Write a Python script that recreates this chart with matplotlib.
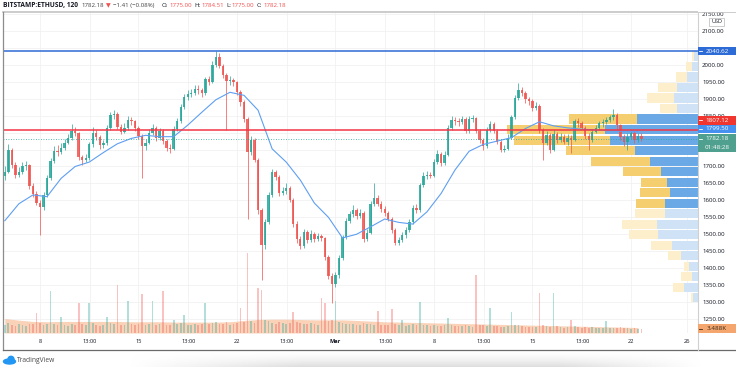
import numpy as np
import pandas as pd
import matplotlib
matplotlib.use('Agg')
import matplotlib.pyplot as plt
import matplotlib.dates as mdates
from matplotlib.patches import Rectangle, Ellipse, Circle

plt.rcParams['font.family'] = ['Open Sans', 'DejaVu Sans']

# ---- data (6h candles, BITSTAMP:ETHUSD) ----
first_open = 1672.0
close = [1685, 1750, 1705, 1676, 1685, 1702, 1705, 1643, 1620, 1593,
         1581, 1617, 1667, 1717, 1747, 1744, 1756, 1770, 1785, 1806,
         1798, 1729, 1720, 1726, 1765, 1800, 1788, 1762, 1768, 1815,
         1853, 1856, 1818, 1803, 1815, 1836, 1833, 1815, 1791, 1759,
         1770, 1800, 1815, 1785, 1806, 1776, 1756, 1753, 1812, 1833,
         1877, 1904, 1913, 1918, 1930, 1927, 1918, 1957, 1950, 2001,
         2022, 1998, 1969, 1951, 1954, 1948, 1921, 1889, 1839, 1744,
         1779, 1720, 1572, 1469, 1537, 1617, 1685, 1670, 1623, 1628,
         1637, 1602, 1531, 1486, 1466, 1507, 1483, 1501, 1486, 1495,
         1489, 1433, 1377, 1353, 1380, 1430, 1492, 1540, 1560, 1572,
         1554, 1563, 1486, 1504, 1590, 1608, 1590, 1575, 1563, 1546,
         1513, 1475, 1483, 1498, 1513, 1537, 1578, 1572, 1646, 1673,
         1676, 1673, 1714, 1738, 1711, 1735, 1815, 1836, 1833, 1830,
         1839, 1806, 1839, 1842, 1806, 1779, 1759, 1809, 1824, 1806,
         1773, 1750, 1752, 1785, 1845, 1901, 1927, 1918, 1898, 1892,
         1874, 1880, 1809, 1770, 1794, 1750, 1797, 1779, 1788, 1773,
         1785, 1779, 1833, 1828, 1815, 1791, 1779, 1803, 1815, 1827,
         1830, 1836, 1845, 1853, 1821, 1788, 1773, 1788, 1800, 1779,
         1791, 1782.18]
high = [1700, 1765, 1755, 1712, 1698, 1712, 1716, 1708, 1650, 1628,
        1600, 1625, 1675, 1725, 1760, 1762, 1770, 1782, 1795, 1825,
        1818, 1802, 1735, 1738, 1772, 1818, 1808, 1792, 1778, 1822,
        1862, 1868, 1860, 1825, 1828, 1848, 1845, 1838, 1820, 1795,
        1780, 1812, 1826, 1820, 1815, 1810, 1782, 1765, 1820, 1842,
        1885, 1915, 1925, 1928, 1942, 1940, 1932, 1965, 1968, 2012,
        2041, 2036, 2002, 1975, 1966, 1962, 1952, 1925, 1895, 1845,
        1790, 1785, 1725, 1578, 1545, 1625, 1692, 1690, 1675, 1640,
        1650, 1642, 1608, 1538, 1495, 1515, 1512, 1512, 1508, 1505,
        1502, 1493, 1438, 1385, 1390, 1438, 1498, 1548, 1570, 1585,
        1578, 1575, 1568, 1515, 1598, 1652, 1615, 1598, 1582, 1570,
        1550, 1518, 1492, 1506, 1522, 1545, 1585, 1588, 1652, 1685,
        1688, 1685, 1722, 1748, 1742, 1745, 1822, 1848, 1845, 1842,
        1850, 1845, 1848, 1852, 1846, 1812, 1785, 1818, 1835, 1830,
        1810, 1778, 1762, 1795, 1852, 1910, 1945, 1935, 1922, 1905,
        1898, 1890, 1885, 1815, 1805, 1800, 1808, 1802, 1798, 1795,
        1795, 1792, 1840, 1842, 1835, 1820, 1798, 1810, 1822, 1835,
        1840, 1845, 1852, 1870, 1858, 1826, 1795, 1800, 1812, 1805,
        1800, 1798]
low = [1660, 1680, 1695, 1665, 1668, 1678, 1690, 1635, 1610, 1585,
       1498, 1572, 1610, 1660, 1710, 1732, 1738, 1748, 1765, 1778,
       1790, 1718, 1705, 1712, 1720, 1758, 1778, 1752, 1755, 1762,
       1808, 1840, 1810, 1795, 1798, 1808, 1822, 1805, 1782, 1665,
       1748, 1765, 1792, 1775, 1778, 1765, 1745, 1740, 1748, 1805,
       1828, 1870, 1895, 1905, 1910, 1915, 1905, 1912, 1942, 1945,
       1995, 1990, 1960, 1808, 1940, 1938, 1912, 1878, 1830, 1545,
       1735, 1712, 1560, 1365, 1455, 1530, 1610, 1660, 1612, 1615,
       1620, 1595, 1522, 1475, 1455, 1460, 1475, 1476, 1478, 1480,
       1480, 1425, 1368, 1297, 1345, 1372, 1425, 1485, 1532, 1552,
       1545, 1548, 1478, 1480, 1500, 1582, 1582, 1565, 1555, 1538,
       1505, 1468, 1468, 1476, 1490, 1508, 1530, 1562, 1565, 1640,
       1662, 1665, 1668, 1708, 1702, 1705, 1730, 1808, 1822, 1820,
       1825, 1798, 1800, 1830, 1798, 1770, 1750, 1755, 1802, 1798,
       1765, 1742, 1742, 1748, 1780, 1840, 1895, 1908, 1888, 1882,
       1865, 1866, 1800, 1718, 1762, 1740, 1745, 1770, 1772, 1765,
       1762, 1740, 1775, 1818, 1808, 1782, 1750, 1772, 1798, 1808,
       1818, 1825, 1830, 1838, 1812, 1778, 1760, 1748, 1780, 1770,
       1772, 1775]
volume = [2.6, 3.1, 2.4, 2.2, 2.8, 2.5, 2.3, 2.9, 2.7, 6.2,
          3.2, 2.6, 2.9, 13.0, 2.8, 2.4, 5.0, 2.6, 2.2, 2.9,
          2.5, 9.3, 2.7, 2.4, 9.3, 3.0, 2.6, 2.3, 2.5, 5.0,
          3.1, 2.8, 15.0, 2.6, 2.4, 10.0, 2.7, 2.5, 2.9, 12.0,
          2.6, 2.8, 10.0, 2.5, 2.7, 13.0, 2.6, 2.4, 4.0, 2.8,
          3.0, 5.6, 2.6, 2.4, 2.9, 2.5, 2.7, 9.3, 2.8, 3.1,
          3.3, 2.9, 2.7, 3.4, 2.6, 2.8, 3.0, 7.8, 3.4, 25.0,
          3.6, 3.2, 14.0, 13.4, 4.2, 3.6, 3.1, 2.9, 3.3, 3.0,
          2.8, 3.2, 6.5, 3.4, 3.0, 2.9, 2.7, 3.1, 2.8, 2.6,
          11.0, 9.3, 3.6, 4.1, 10.0, 3.5, 3.2, 2.9, 2.7, 2.8,
          2.6, 2.4, 3.0, 2.7, 2.9, 2.6, 7.0, 2.5, 2.4, 2.6,
          7.5, 2.8, 2.5, 4.0, 2.3, 2.5, 2.7, 2.4, 9.7, 2.6,
          2.4, 2.2, 2.5, 2.3, 2.1, 2.4, 4.7, 2.6, 2.3, 2.1,
          2.2, 2.5, 2.3, 2.0, 18.0, 2.6, 2.4, 2.2, 7.8, 2.1,
          2.3, 2.0, 1.9, 2.2, 6.5, 2.4, 2.6, 2.2, 2.0, 1.9,
          1.8, 2.0, 12.5, 2.4, 2.1, 1.9, 12.5, 2.2, 1.8, 1.7,
          1.9, 4.0, 2.1, 1.8, 1.7, 1.9, 1.6, 1.8, 1.7, 1.5,
          1.6, 3.7, 1.5, 1.7, 1.6, 1.8, 1.5, 1.6, 1.4, 1.5,
          1.4, 1.1]
# daily readings of the moving average and of the volume average
ma = [1540, 1590, 1616, 1611, 1665, 1700, 1713, 1741, 1767, 1783,
      1792, 1788, 1788, 1822, 1860, 1897, 1919, 1910, 1866, 1752,
      1713, 1660, 1592, 1550, 1489, 1500, 1522, 1545, 1535, 1530,
      1566, 1620, 1690, 1745, 1765, 1775, 1785, 1812, 1832, 1820,
      1814, 1810, 1808, 1806, 1804, 1803]
vol_avg = [4.5, 4.0, 3.6, 3.5, 3.6, 3.6, 3.6, 3.6, 3.6, 3.5,
           3.5, 3.5, 3.4, 3.4, 3.4, 3.4, 3.5, 3.9, 4.2, 4.3,
           4.3, 4.2, 4.1, 4.1, 4.1, 3.9, 3.7, 3.5, 3.4, 3.3,
           3.2, 3.1, 3.0, 2.9, 2.8, 2.7, 2.6, 2.5, 2.4, 2.3,
           2.2, 2.1, 2.0, 1.9, 1.8, 1.7]
# volume profile rows (price bottom of each row), up / down volume
vp_bottom = [1297, 1328, 1359, 1390, 1421, 1452, 1483, 1514, 1545, 1576,
             1607, 1638, 1669, 1700, 1731, 1762, 1793, 1824, 1855, 1886,
             1917, 1948, 1979, 2010]
vp_up = [0.5, 1.4, 0.6, 0.9, 1.7, 2.6, 4.0, 4.1, 3.3, 3.3,
         2.8, 3.1, 3.7, 4.8, 6.3, 8.8, 9.3, 6.1, 2.1, 2.4,
         2.1, 1.1, 0.6, 0.4]
vp_down = [0.2, 1.1, 1.1, 0.5, 1.3, 2.1, 2.9, 3.5, 3.0, 2.9,
           3.0, 2.6, 3.8, 5.9, 6.9, 9.6, 9.8, 6.8, 1.7, 2.7,
           1.9, 1.1, 0.6, 0.2]
vp_value_area = [False] * 9 + [True] * 9 + [False] * 6

tick_dates = ['2021-02-08 00:00', '2021-02-11 13:00', '2021-02-15 00:00', '2021-02-18 13:00',
              '2021-02-22 00:00', '2021-02-25 13:00', '2021-03-01 00:00', '2021-03-04 13:00',
              '2021-03-08 00:00', '2021-03-11 13:00', '2021-03-15 00:00', '2021-03-18 13:00',
              '2021-03-22 00:00', '2021-03-26 00:00']
tick_labels = ['8', '13:00', '15', '13:00', '22', '13:00', 'Mar', '13:00',
               '8', '13:00', '15', '13:00', '22', '26']
price_ticks = [1250, 1300, 1350, 1400, 1450, 1500, 1550, 1600, 1650, 1700, 1750,
               1800, 1850, 1900, 1950, 2000, 2050, 2100, 2150]
hidden_ticks = [1750, 1800, 2050]   # covered by the price tags on the right

W, H = 736, 367
UP, DOWN = '#26a69a', '#ef5350'
TXT = '#131722'

fig = plt.figure(figsize=(W / 100, H / 100), dpi=100)
fig.patch.set_facecolor('white')

rect = [3 / W, (H - 333) / H, 695 / W, 321 / H]
d8 = mdates.date2num(pd.Timestamp('2021-02-08'))
xlim = (d8 - 37 / 14.07, d8 + 658 / 14.07)
ylim = (1208.5, 2156)

xs = mdates.date2num(pd.date_range('2021-02-05 12:00', periods=len(close), freq='6h'))
day_x = mdates.date2num(pd.date_range('2021-02-05 12:00', periods=len(ma), freq='D'))
tick_x = mdates.date2num(pd.to_datetime(tick_dates, format='%Y-%m-%d %H:%M'))

c = np.array(close, dtype=float)
o = np.r_[first_open, c[:-1]]
up = c >= o
cols = np.where(up, UP, DOWN)

# grid layer
ax_grid = fig.add_axes(rect, zorder=0)
for t in tick_x:
    ax_grid.axvline(t, color='#f1f1f1', lw=0.6)
for p in price_ticks:
    ax_grid.axhline(p, color='#f1f1f1', lw=0.6)
ax_grid.set_xlim(xlim)
ax_grid.set_ylim(ylim)
ax_grid.axis('off')

# volume layer
ax_vol = fig.add_axes(rect, zorder=1)
ax_vol.fill_between(day_x, vol_avg, color='#f5b489', alpha=0.6, lw=0)
ax_vol.bar(xs, volume, width=0.12, color=cols, alpha=0.35, lw=0)
ax_vol.set_xlim(xlim)
ax_vol.set_ylim(0, 100)
ax_vol.axis('off')

# volume profile layer
ax_vp = fig.add_axes(rect, zorder=2)
step = np.diff(vp_bottom).mean()
va = np.array(vp_value_area)
ax_vp.barh(np.array(vp_bottom) + step * 0.05, vp_up, height=step * 0.9, left=0,
           align='edge', color=np.where(va, '#6aa9e6', '#cfe2f6'), lw=0)
ax_vp.barh(np.array(vp_bottom) + step * 0.05, vp_down, height=step * 0.9, left=vp_up,
           align='edge', color=np.where(va, '#f5cf6f', '#fdefcb'), lw=0)
ax_vp.set_xlim(69.5, 0)
ax_vp.set_ylim(ylim)
ax_vp.axis('off')

# price layer
ax = fig.add_axes(rect, zorder=3)
ax.patch.set_alpha(0)
ax.vlines(xs, low, high, colors=cols, lw=0.6, alpha=0.85)
ax.bar(xs, np.maximum(np.abs(c - o), 1.5), bottom=np.minimum(o, c), width=0.17,
       color=cols, lw=0, alpha=0.85)
ax.plot(day_x, ma, color='#5e9ff2', lw=0.8)
ax.axhline(2040.62, color='#2d6bd6', lw=1.1)
ax.axhline(1807.12, color='#f23645', lw=1.1)
ax.axhline(close[-1], color=UP, lw=0.6, ls=(0, (1, 2)))
ax.set_xlim(xlim)
ax.set_ylim(ylim)
for s in ax.spines.values():
    s.set_visible(False)
ax.yaxis.tick_right()
ax.set_yticks(price_ticks)
ax.set_yticklabels(['' if p in hidden_ticks else '%.2f' % p for p in price_ticks])
ax.set_xticks(tick_x)
ax.set_xticklabels(tick_labels)
ax.tick_params(axis='y', length=0, pad=3, labelsize=4.4, labelcolor=TXT)
ax.tick_params(axis='x', length=0, pad=4.5, labelsize=4.1, labelcolor=TXT)
for lab in ax.get_xticklabels():
    if lab.get_text() == 'Mar':
        lab.set_fontweight('bold')

# decoration layer in pixel coordinates
dec = fig.add_axes([0, 0, 1, 1], zorder=10)
dec.set_xlim(0, W)
dec.set_ylim(H, 0)
dec.axis('off')

def ypix(a, val):
    return H - a.transData.transform((a.get_xlim()[0], val))[1]

def tag(yc, text, fc, tc='white', h=8.5):
    dec.add_patch(Rectangle((698, yc - h / 2), 38, h, fc=fc, ec='none', zorder=5))
    dec.plot([699, 702], [yc, yc], color=tc, lw=0.6, zorder=6)
    dec.text(717, yc, text, color=tc, fontsize=4.5, ha='center', va='center', zorder=6)

dec.add_patch(Rectangle((698, 0), 38, 11.5, fc='white', ec='none', zorder=4))
tag(ypix(ax, 2040.62), '2040.62', '#2d6bd6')
tag(ypix(ax, 1807.12) - 9.7, '1807.12', '#f0362f')
tag(ypix(ax, ma[-1]) - 2.8, '1799.50', '#4691f0', h=8)
yg = ypix(ax, close[-1])
dec.add_patch(Rectangle((698, yg - 4.2), 38, 17.5, fc='#4fa08e', ec='none', zorder=5))
dec.plot([699, 702], [yg, yg], color='white', lw=0.6, zorder=6)
dec.text(717, yg, '1782.18', color='white', fontsize=4.5, ha='center', va='center', zorder=6)
dec.text(717, yg + 8.5, '01:48:28', color='white', fontsize=4.5, ha='center', va='center', zorder=6)
tag(ypix(ax_vol, 3.488) + 6.7, '3.488K', '#f4a66e', tc='#3a2a1a', h=9)
dec.add_patch(Rectangle((709, 17.5), 15, 8, fc='white', ec='#b8b8b8', lw=0.5, zorder=5))
dec.text(716.5, 21.5, 'USD', color=TXT, fontsize=4, ha='center', va='center', zorder=6)

# frame
dec.plot([3, W], [11.5, 11.5], color='#c4c4c4', lw=1.2)
dec.plot([3, 3], [11.5, 350], color='#8c8c8c', lw=0.9)
dec.plot([3, W], [350, 350], color='#6b6b6b', lw=0.9)
dec.plot([698, 698], [11.5, 350], color='#d0d0d0', lw=0.8)

# header
dec.text(3, 5.7, 'BITSTAMP:ETHUSD, 120', color=TXT, fontsize=4.8, fontweight='bold',
         va='center', ha='left')
header = [('1782.18', 82, '#444444'), ('\u25bc', 106, DOWN),
          ('\u22121.41 (\u22120.08%)', 113, '#444444'),
          ('O:', 162, TXT), ('1775.00', 169, DOWN),
          ('H:', 194, TXT), ('1784.51', 201, DOWN),
          ('L:', 226, TXT), ('1775.00', 232, DOWN),
          ('C:', 257, TXT), ('1782.18', 264, DOWN)]
for text, hx, col in header:
    dec.text(hx, 5.7, text, color=col, fontsize=4.4, va='center', ha='left')

# footer shadow and logo
gy = np.linspace(0, 1, 16)[:, None]
gx = np.interp(np.arange(W), [0, 130, 300, 560, 700, W], [0, 0, 1, 1, 0, 0])[None, :]
shade = np.zeros((16, W, 4))
shade[..., :3] = 0.86
shade[..., 3] = gy ** 1.5 * gx * 0.9
dec.imshow(shade, extent=(0, W, H, 351), aspect='auto', zorder=1)
dec.add_patch(Ellipse((9.5, 361.5), 12, 5, color='#2196f3', zorder=3))
dec.add_patch(Circle((11, 359.3), 3.0, color='#2196f3', zorder=3))
dec.text(17, 360.5, 'TradingView', color='#4a4a4a', fontsize=4.8, va='center', ha='left')

fig.savefig('out.png', dpi=100, facecolor='white')
